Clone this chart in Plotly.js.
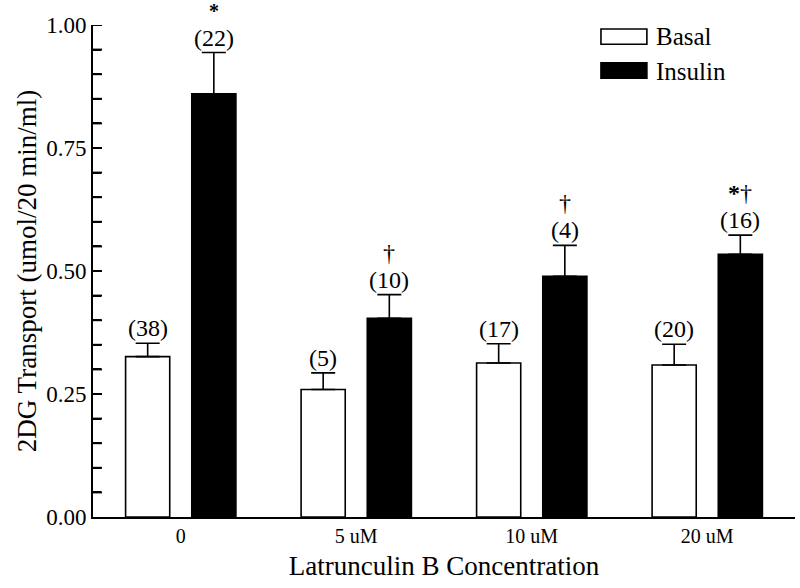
<!DOCTYPE html>
<html><head><meta charset="utf-8">
<script src="https://cdn.plot.ly/plotly-3.0.1.min.js"></script>
<style>html,body{margin:0;padding:0;background:#fff}#chart{width:800px;height:588px}</style>
</head><body><div id="chart"></div>
<script>
const categories = ["0", "5 uM", "10 uM", "20 uM"];
const seriesNames = ["Basal", "Insulin"];
const basal = [0.326, 0.259, 0.313, 0.309];
const basalErr = [0.027, 0.034, 0.039, 0.042];
const insulin = [0.860, 0.404, 0.489, 0.534];
const insulinErr = [0.084, 0.048, 0.063, 0.039];
const basalN = ["(38)", "(5)", "(17)", "(20)"];
const insulinN = ["(22)", "(10)", "(4)", "(16)"];
const insulinSig = ["*", "†", "†", "*†"];

const FONT = "'Liberation Serif', 'Times New Roman', Times, serif";
const zeros = categories.map(() => 0);

const traces = [
  {
    type: "bar", name: seriesNames[0], x: categories, y: basal,
    marker: {color: "#ffffff", line: {color: "#000000", width: 1.6}},
    error_y: {type: "data", symmetric: false, array: basalErr, arrayminus: zeros,
              color: "#000000", thickness: 1.6, width: 12},
    showlegend: false
  },
  {
    type: "bar", name: seriesNames[1], x: categories, y: insulin,
    marker: {color: "#000000", line: {color: "#000000", width: 1.6}},
    error_y: {type: "data", symmetric: false, array: insulinErr, arrayminus: zeros,
              color: "#000000", thickness: 1.6, width: 12},
    showlegend: false
  }
];

const OFF = 33;
const annFont = {family: FONT, size: 24, color: "#000"};
const annotations = [];
categories.forEach((c, i) => {
  annotations.push({x: i, y: basal[i] + basalErr[i], xref: "x", yref: "y", xshift: -OFF, yshift: 1,
    text: basalN[i], showarrow: false, yanchor: "bottom", borderpad: 0, font: annFont});
  annotations.push({x: i, y: insulin[i] + insulinErr[i], xref: "x", yref: "y", xshift: OFF, yshift: 1,
    text: insulinN[i], showarrow: false, yanchor: "bottom", borderpad: 0, font: annFont});
  if (insulinSig[i]) {
    const lone = insulinSig[i] === "*";
    const txt = insulinSig[i].replace("*", "<b>*</b>");
    annotations.push({x: i, y: insulin[i] + insulinErr[i], xref: "x", yref: "y", xshift: OFF,
      yshift: lone ? 30 : 28, borderpad: 0,
      text: txt, showarrow: false, yanchor: "bottom",
      font: {family: FONT, size: lone ? 20 : 24, color: "#000"}});
  }
});
// legend labels
const legFont = {family: FONT, size: 25, color: "#000"};
annotations.push({x: 0.799, y: 0.977, xref: "paper", yref: "paper", xanchor: "left", yanchor: "middle",
  text: seriesNames[0], showarrow: false, font: legFont});
annotations.push({x: 0.799, y: 0.906, xref: "paper", yref: "paper", xanchor: "left", yanchor: "middle",
  text: seriesNames[1], showarrow: false, font: legFont});

const shapes = [
  {type: "rect", xref: "paper", yref: "paper", x0: 0.7236, x1: 0.789, y0: 0.961, y1: 0.992,
   fillcolor: "#ffffff", line: {color: "#000", width: 1.6}},
  {type: "rect", xref: "paper", yref: "paper", x0: 0.7236, x1: 0.789, y0: 0.892, y1: 0.923,
   fillcolor: "#000000", line: {color: "#000", width: 1.6}}
];
// inside tick marks every 0.05 along the y axis (pixel-length stubs anchored at the axis)
const Y_MAX = 1.0, TICK_STEP = 0.05;
for (let k = 1; k * TICK_STEP <= Y_MAX + 1e-9; k++) {
  const v = +(k * TICK_STEP).toFixed(2);
  shapes.push({type: "line", xref: "paper", xsizemode: "pixel", xanchor: 0, x0: 0, x1: 9,
    yref: "y", y0: v, y1: v, line: {color: "#000", width: 2}});
}

const layout = {
  width: 800, height: 588,
  margin: {l: 93, r: 5, t: 25, b: 71},
  paper_bgcolor: "#fff", plot_bgcolor: "#fff",
  barmode: "group", bargap: 0.246, bargroupgap: 0.333,
  font: {family: FONT, color: "#000"},
  showlegend: false,
  xaxis: {
    type: "category", range: [-0.5, 3.5], showgrid: false, zeroline: false,
    showline: true, linecolor: "#000", linewidth: 2, ticks: "",
    tickfont: {family: FONT, size: 20, color: "#000"},
    title: {text: "Latrunculin B Concentration", font: {family: FONT, size: 27, color: "#000"}, standoff: 10}
  },
  yaxis: {
    range: [0, Y_MAX], showgrid: false, zeroline: false,
    showline: true, linecolor: "#000", linewidth: 2,
    tickmode: "linear", tick0: 0, dtick: 0.25, tickformat: ".2f",
    ticks: "inside", ticklen: 9, tickwidth: 2, tickcolor: "#000",
    minor: {ticks: "inside", ticklen: 8, tickwidth: 2, tickcolor: "#000", dtick: TICK_STEP, tick0: 0, showgrid: false},
    tickfont: {family: FONT, size: 23, color: "#000"},
    title: {text: "2DG Transport (umol/20 min/ml)", font: {family: FONT, size: 27, color: "#000"}, standoff: 2}
  },
  annotations: annotations,
  shapes: shapes
};

Plotly.newPlot("chart", traces, layout, {displayModeBar: false, staticPlot: true});
</script>
</body></html>
